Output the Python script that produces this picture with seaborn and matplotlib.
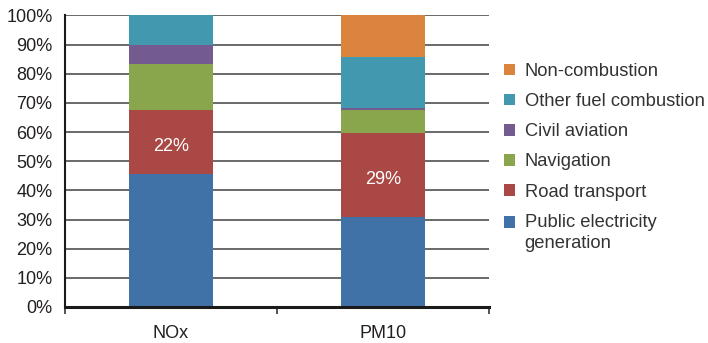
import numpy as np
import pandas as pd
import matplotlib
matplotlib.use("Agg")
import matplotlib.pyplot as plt
import seaborn as sns
from matplotlib.patches import Patch, Rectangle
from matplotlib.legend_handler import HandlerPatch
from matplotlib.ticker import FixedLocator, PercentFormatter

# Share of emissions by source (%), stacked bottom to top
pollutants = ["NOx", "PM10"]
sources = ["Public electricity\ngeneration", "Road transport", "Navigation",
           "Civil aviation", "Other fuel combustion", "Non-combustion"]
public_electricity = [45.5, 30.7]
road_transport = [22.0, 29.0]
navigation = [16.0, 8.0]
civil_aviation = [6.3, 0.4]
other_fuel = [10.2, 17.7]
non_combustion = [0.0, 14.2]
road_labels = ["22%", "29%"]

colors = ["#4172a7", "#a94845", "#8aa64c", "#735a8f", "#4298af", "#db843d"]

layers = [public_electricity, road_transport, navigation,
          civil_aviation, other_fuel, non_combustion]


class TopLineHandler(HandlerPatch):
    """Square swatch aligned with the first line of a two-line label."""

    def create_artists(self, legend, orig_handle, xdescent, ydescent,
                       width, height, fontsize, trans):
        shift = 0.6 * fontsize
        p = Rectangle((-xdescent, -ydescent + shift), width, height,
                      facecolor=orig_handle.get_facecolor(), edgecolor="none",
                      transform=trans)
        return [p]


sns.set_theme(style="white")
plt.rcParams["font.family"] = ["Liberation Sans", "DejaVu Sans"]

fig = plt.figure(figsize=(7.08, 3.43), dpi=100)
ax = fig.add_axes([0.0918, 0.105, 0.5989, 0.85])

# Draw cumulative totals from the top layer down so each segment shows its slice
cum = np.cumsum(np.array(layers), axis=0)
for i in range(len(layers) - 1, -1, -1):
    df = pd.DataFrame({"pollutant": pollutants, "total": cum[i]})
    sns.barplot(data=df, x="pollutant", y="total", color=colors[i],
                saturation=1, width=0.4, ax=ax, zorder=2,
                edgecolor="none", linewidth=0)

# Value labels on the road transport segment
for j, lab in enumerate(road_labels):
    mid = public_electricity[j] + road_transport[j] / 2
    ax.text(j, mid - 1.5, lab, ha="center", va="center", color="white",
            fontsize=13, zorder=3)

ax.set_xlim(-0.5, 1.5)
ax.set_ylim(0, 100)
ax.set_yticks(np.arange(0, 101, 10))
ax.yaxis.set_major_formatter(PercentFormatter(decimals=0))
ax.set_xlabel("")
ax.set_ylabel("")

ax.grid(axis="y", color="#505050", linewidth=1.2, zorder=0)
ax.set_axisbelow(True)
for s in ["top", "right"]:
    ax.spines[s].set_visible(False)
ax.spines["left"].set_color("#1a1a1a")
ax.spines["left"].set_linewidth(1.5)
ax.spines["bottom"].set_color("#1a1a1a")
ax.spines["bottom"].set_linewidth(2.2)

ax.tick_params(axis="y", which="major", direction="out", length=5, width=1,
               color="#333333", labelsize=13, labelcolor="#231f20", pad=4)
ax.tick_params(axis="x", which="major", length=0, labelsize=13,
               labelcolor="#231f20", pad=13)
ax.xaxis.set_minor_locator(FixedLocator([-0.5, 0.5, 1.5]))
ax.tick_params(axis="x", which="minor", direction="out", length=5, width=1.2,
               color="#333333", bottom=True)

handles = [Patch(facecolor=colors[i], edgecolor="none", label=sources[i])
           for i in range(len(sources) - 1, -1, -1)]
leg = fig.legend(handles=handles, loc="upper left", bbox_to_anchor=(0.688, 0.865),
                 frameon=False, fontsize=13.2, handlelength=0.6, handleheight=0.6,
                 handletextpad=0.55, labelspacing=0.72, labelcolor="#333333",
                 handler_map={handles[-1]: TopLineHandler()})
for t in leg.get_texts():
    t.set_linespacing(1.35)

fig.savefig("out.png", dpi=100)
